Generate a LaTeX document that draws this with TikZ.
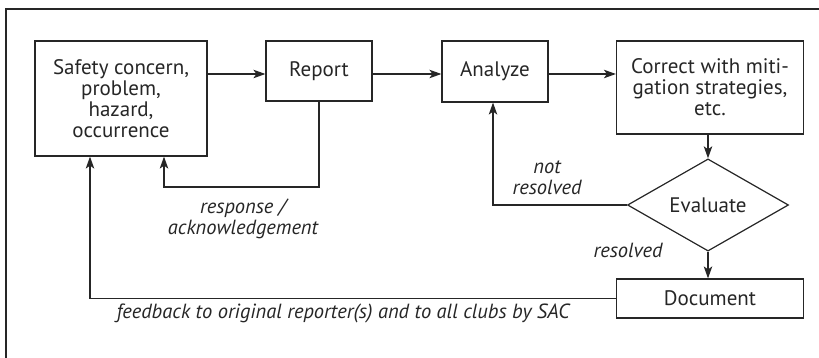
\documentclass[tikz,border=0pt]{standalone}
\usepackage{fontspec}
\setmainfont{PT Sans}
\usetikzlibrary{arrows.meta,shapes.geometric}
\definecolor{ink}{HTML}{262626}
\tikzset{
  box/.style={draw=ink, line width=1.2pt, rectangle, inner sep=0pt, align=center,
    font=\fontsize{21}{21}\selectfont, text=ink},
  decision/.style={draw=ink, line width=1.2pt, diamond, inner sep=0pt,
    minimum width=161pt, minimum height=58pt, font=\fontsize{21}{21}\selectfont, text=ink},
  lbl/.style={align=center, inner sep=0pt, font=\fontsize{20.5}{21}\selectfont\itshape, text=ink},
  conn/.style={draw=ink, line width=1.2pt},
  arr/.style={conn, -{Stealth[length=12pt, width=8.5pt, inset=3pt]}},
}
\begin{document}
\begin{tikzpicture}[x=1pt, y=-1pt]
  \useasboundingbox (0,0) rectangle (819,358);
  % outer frame (top and left edges only)
  \draw[conn] (6,358) -- (6,9) -- (819,9);

  % process boxes
  \node[box, minimum width=172pt, minimum height=115pt] (safety) at (121,98.5)
    {Safety concern,\\problem,\\hazard,\\occurrence};
  \node[box, minimum width=106pt, minimum height=60pt] (report) at (319,71) {Report};
  \node[box, minimum width=106pt, minimum height=61pt] (analyze) at (495,71.5) {Analyze};
  \node[box, minimum width=187pt, minimum height=93pt] (correct) at (710,87.5)
    {Correct with miti-\\gation strategies,\\etc.};
  \node[decision] (evaluate) at (708,205) {Evaluate};
  \node[box, minimum width=187pt, minimum height=39pt] (document) at (710,298.5) {Document};

  % routing points
  \coordinate (row) at (0,74);
  \coordinate (ack) at (164,187);
  \coordinate (fb) at (90,298.5);

  % main flow
  \draw[arr] (safety.east |- row) -- (report.west |- row);
  \draw[arr] (report.east |- row) -- (analyze.west |- row);
  \draw[arr] (analyze.east |- row) -- (correct.west |- row);
  \draw[arr] (evaluate.north |- correct.south) -- (evaluate.north);
  \draw[arr] (evaluate.south) -- (evaluate.south |- document.north);

  % loops back
  \draw[arr] (evaluate.west) -| ([xshift=-2pt]analyze.south);
  \draw[arr] (report.south) |- (ack) -- (ack |- safety.south);
  \draw[arr] (document.west) -- (fb) -- (fb |- safety.south);

  % labels
  \node[lbl] (lack) at (243,219) {response /\\acknowledgement};
  \node[lbl] (lnot) at (547,178) {not\\resolved};
  \node[lbl] (lres) at (628,250) {resolved};
  \node[lbl] (lfb) at (343,313) {feedback to original reporter(s) and to all clubs by SAC};
\end{tikzpicture}
\end{document}
